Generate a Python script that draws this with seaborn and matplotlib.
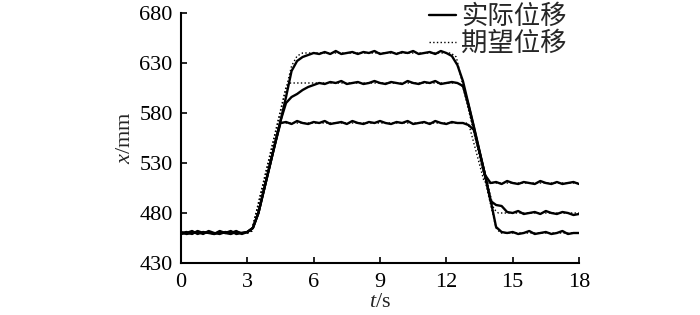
import numpy as np
import pandas as pd
import matplotlib
matplotlib.use("Agg")
import matplotlib.pyplot as plt
import seaborn as sns

sns.set_style("ticks")
plt.rcParams["font.family"] = ["Liberation Serif", "Noto Sans CJK SC"]
plt.rcParams["mathtext.fontset"] = "custom"
plt.rcParams["mathtext.it"] = "Liberation Serif:italic"
plt.rcParams["mathtext.rm"] = "Liberation Serif"

# sample times (s) for the measured curves
t = np.arange(0, 18.001, 0.25)

# measured (actual) displacement, mm
actual_640 = [
    460, 461, 459, 462,  460, 461, 459, 461,  460, 462, 459, 460,
    461, 465, 480, 503,  526, 549, 572, 596,  622, 632, 636, 638,
    640, 639, 641, 639,  642, 639, 640, 641,  639, 641, 640, 642,
    639, 640, 641, 639,  641, 640, 642, 639,  640, 641, 639, 642,
    640, 637, 628, 612,  589, 566, 542, 518,  493, 466, 461, 460,
    461, 459, 460, 462,  459, 460, 461, 459,  460, 462, 459, 460,
    460]
actual_610 = [
    461, 459, 460, 461,  459, 462, 460, 459,  461, 460, 462, 459,
    461, 465, 480, 503,  526, 549, 572, 590,  596, 599, 603, 606,
    608, 610, 609, 611,  610, 612, 609, 610,  611, 609, 610, 612,
    610, 609, 611, 610,  609, 612, 610, 609,  611, 610, 612, 609,
    610, 611, 610, 607,  588, 565, 541, 518,  492, 488, 487, 481,
    480, 482, 479, 480,  481, 479, 482, 480,  479, 481, 480, 478,
    479]
actual_570 = [
    459, 460, 462, 459,  461, 460, 459, 462,  460, 459, 461, 460,
    461, 465, 480, 503,  526, 549, 570, 571,  569, 572, 570, 569,
    571, 570, 572, 569,  570, 571, 569, 572,  570, 569, 571, 570,
    572, 570, 569, 571,  570, 572, 569, 570,  571, 569, 572, 570,
    569, 571, 570, 570,  568, 563, 541, 518,  510, 511, 509, 512,
    510, 509, 511, 510,  509, 512, 510, 509,  511, 509, 510, 511,
    509]

# desired (reference) displacement, mm
des_640_t = [0, 3.0, 3.2, 5.0, 5.25, 5.5, 12.2, 12.45, 14.25, 14.45, 18]
des_640_x = [460, 460, 462, 627, 637, 640, 640, 636, 465, 460, 460]
des_610_t = [0, 3.0, 3.2, 4.75, 4.95, 12.55, 12.75, 14.15, 14.35, 18]
des_610_x = [460, 460, 462, 606, 610, 610, 606, 484, 480, 480]
des_570_t = [0, 3.0, 3.2, 4.4, 4.55, 12.9, 13.05, 13.7, 13.85, 18]
des_570_x = [460, 460, 462, 566, 570, 570, 566, 512, 510, 510]

xticks = [0, 3, 6, 9, 12, 15, 18]
yticks = [430, 480, 530, 580, 630, 680]
legend_labels = ["实际位移", "期望位移"]

fig = plt.figure(figsize=(7.0, 3.15), dpi=100)
ax = fig.add_axes([181 / 700, 1 - 263 / 315, (579 - 181) / 700, (263 - 13) / 315])

for i, (tx, xx) in enumerate([(des_640_t, des_640_x), (des_610_t, des_610_x), (des_570_t, des_570_x)]):
    sns.lineplot(x=tx, y=xx, ax=ax, color="black", lw=1.0, linestyle=":",
                 label=legend_labels[1] if i == 0 else None, legend=False)
for i, yy in enumerate([actual_640, actual_610, actual_570]):
    sns.lineplot(x=t, y=yy, ax=ax, color="black", lw=1.7,
                 label=legend_labels[0] if i == 0 else None, legend=False)

ax.set_xlim(0, 18)
ax.set_ylim(430, 680)
ax.set_xticks(xticks)
ax.set_yticks(yticks)
ax.tick_params(direction="in", length=4, width=1.2, labelsize=16, colors="black")
ax.tick_params(axis="y", pad=6)
ax.tick_params(axis="x", pad=7)
sns.despine(ax=ax)
for s in ["left", "bottom"]:
    ax.spines[s].set_linewidth(1.5)
    ax.spines[s].set_color("black")

ax.set_xlabel(r"$t$/s", fontsize=16, labelpad=1)
ax.set_ylabel(r"$x$/mm", fontsize=16, labelpad=3)

handles, labels = ax.get_legend_handles_labels()
order = [labels.index(legend_labels[0]), labels.index(legend_labels[1])]
leg = ax.legend([handles[k] for k in order], [labels[k] for k in order],
                loc="upper right", bbox_to_anchor=(567 / 700, 0.99),
                bbox_transform=fig.transFigure, frameon=False,
                prop={"family": ["Noto Sans CJK SC"], "size": 19},
                handlelength=1.02, handletextpad=0.2, labelspacing=0.0,
                borderpad=0, borderaxespad=0)

fig.savefig("out.png", dpi=100)
